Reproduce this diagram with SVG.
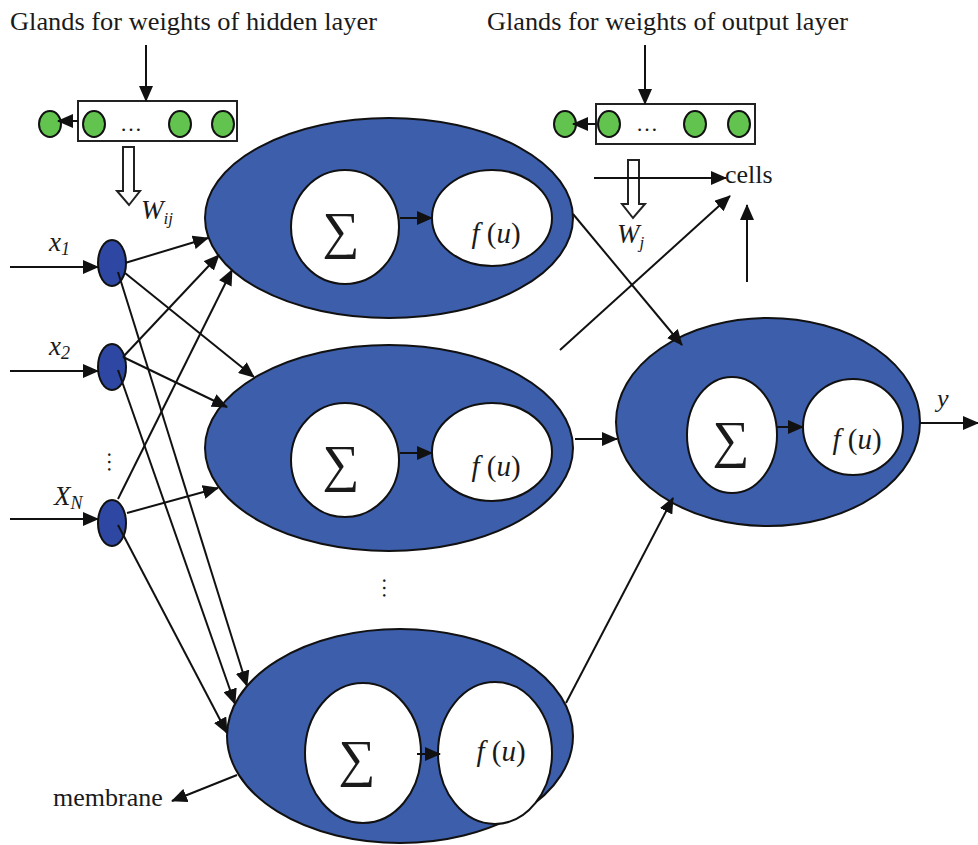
<svg xmlns="http://www.w3.org/2000/svg" width="978" height="845" viewBox="0 0 978 845">
  <style>
    .txt { font-family: "Liberation Serif", "Times New Roman", serif; fill: #1a1a1a; }
    .it { font-style: italic; }
    .cell { fill: #3D5EAB; stroke: #111; stroke-width: 2; }
    .inp { fill: #2E47A2; stroke: #111; stroke-width: 2; }
    .inner { fill: #fff; stroke: #111; stroke-width: 2; }
    .gland { fill: #62C44E; stroke: #111; stroke-width: 2; }
    .box { fill: #fff; stroke: #222; stroke-width: 2; }
    .hollow { fill: #fff; stroke: #222; stroke-width: 2; }
    .edge { fill: none; stroke: #111; stroke-width: 2; marker-end: url(#ah); }
    .sig { font-size: 52px; }
    .fu { font-size: 29px; font-style: italic; }
  </style>
  <defs>
    <marker id="ah" markerUnits="userSpaceOnUse" markerWidth="16" markerHeight="14" refX="15" refY="7" orient="auto">
      <path d="M0,0 L16,7 L0,14 Z" fill="#111"/>
    </marker>
  </defs>

  <rect width="978" height="845" fill="#fff"/>

  <!-- headings -->
  <text class="txt" x="10" y="30" font-size="26" textLength="367" lengthAdjust="spacingAndGlyphs">Glands for weights of hidden layer</text>
  <text class="txt" x="487" y="30" font-size="26" textLength="361" lengthAdjust="spacingAndGlyphs">Glands for weights of output layer</text>

  <!-- gland strip for hidden-layer weights -->
  <g id="glands-hidden">
    <rect class="box" x="78" y="101" width="159" height="40"/>
    <ellipse class="gland" cx="50" cy="124" rx="11" ry="13"/>
    <ellipse class="gland" cx="94" cy="124" rx="11" ry="13"/>
    <ellipse class="gland" cx="180" cy="124" rx="11" ry="13"/>
    <ellipse class="gland" cx="223" cy="124" rx="11" ry="13"/>
    <text class="txt" x="131" y="131" font-size="22" text-anchor="middle">…</text>
    <path class="hollow" d="M123,147 H134 V191 H140 L129,205 L117,191 H123 Z"/>
    <text class="txt it" x="141" y="219" font-size="27">W<tspan font-size="17" dy="5">ij</tspan></text>
  </g>

  <!-- gland strip for output-layer weights -->
  <g id="glands-output">
    <rect class="box" x="596" y="104" width="159" height="40"/>
    <ellipse class="gland" cx="565" cy="124" rx="11" ry="13"/>
    <ellipse class="gland" cx="609" cy="124" rx="11" ry="13"/>
    <ellipse class="gland" cx="695" cy="124" rx="11" ry="13"/>
    <ellipse class="gland" cx="739" cy="124" rx="11" ry="13"/>
    <text class="txt" x="647" y="131" font-size="22" text-anchor="middle">…</text>
    <path class="hollow" d="M628,160 H639 V204 H645 L633,218 L622,204 H628 Z"/>
    <text class="txt it" x="617" y="243" font-size="27">W<tspan font-size="17" dy="5">j</tspan></text>
  </g>

  <!-- inputs -->
  <g id="input-1">
    <ellipse class="inp" cx="112" cy="263" rx="14" ry="23"/>
    <text class="txt it" x="49" y="251" font-size="27">x<tspan font-size="18" dy="4">1</tspan></text>
  </g>
  <g id="input-2">
    <ellipse class="inp" cx="112" cy="367" rx="14" ry="23"/>
    <text class="txt it" x="49" y="355" font-size="27">x<tspan font-size="18" dy="4">2</tspan></text>
  </g>
  <g id="input-n">
    <ellipse class="inp" cx="112" cy="523" rx="14" ry="23"/>
    <text class="txt it" x="54" y="505" font-size="27">X<tspan font-size="18" dy="4">N</tspan></text>
  </g>
  <text class="txt" x="116" y="470" font-size="22" text-anchor="middle" transform="rotate(90 116 462)">…</text>

  <!-- hidden neurons -->
  <g id="hidden-1">
    <ellipse class="cell" cx="389" cy="218" rx="184" ry="100"/>
    <ellipse class="inner" cx="345" cy="227" rx="54" ry="57"/>
    <ellipse class="inner" cx="492" cy="218" rx="60" ry="48"/>
    <text class="txt sig" x="341" y="248" text-anchor="middle">∑</text>
    <text class="txt fu" x="496" y="243" text-anchor="middle">f<tspan font-style="normal"> (</tspan>u<tspan font-style="normal">)</tspan></text>
  </g>
  <g id="hidden-2">
    <ellipse class="cell" cx="389" cy="448" rx="184" ry="103"/>
    <ellipse class="inner" cx="345" cy="460" rx="54" ry="57"/>
    <ellipse class="inner" cx="492" cy="452" rx="60" ry="49"/>
    <text class="txt sig" x="341" y="481" text-anchor="middle">∑</text>
    <text class="txt fu" x="496" y="476" text-anchor="middle">f<tspan font-style="normal"> (</tspan>u<tspan font-style="normal">)</tspan></text>
  </g>
  <text class="txt" x="391" y="596" font-size="22" text-anchor="middle" transform="rotate(90 391 588)">…</text>
  <g id="hidden-3">
    <ellipse class="cell" cx="400" cy="736" rx="173" ry="107"/>
    <ellipse class="inner" cx="363" cy="753" rx="58" ry="70"/>
    <ellipse class="inner" cx="495" cy="753" rx="57" ry="71"/>
    <text class="txt sig" x="357" y="776" text-anchor="middle">∑</text>
    <text class="txt fu" x="501" y="761" text-anchor="middle">f<tspan font-style="normal"> (</tspan>u<tspan font-style="normal">)</tspan></text>
  </g>

  <!-- output neuron -->
  <g id="output">
    <ellipse class="cell" cx="768" cy="422" rx="152" ry="104"/>
    <ellipse class="inner" cx="732" cy="435" rx="45" ry="58"/>
    <ellipse class="inner" cx="853" cy="427" rx="50" ry="48"/>
    <text class="txt sig" x="731" y="457" text-anchor="middle">∑</text>
    <text class="txt fu" x="857" y="449" text-anchor="middle">f<tspan font-style="normal"> (</tspan>u<tspan font-style="normal">)</tspan></text>
    <text class="txt it" x="937" y="407" font-size="26">y</text>
  </g>

  <g id="labels">
    <text class="txt" x="725" y="183" font-size="26">cells</text>
    <text class="txt" x="53" y="806" font-size="26">membrane</text>
  </g>

  <g id="connectors">
    <!-- gland feeds -->
    <line class="edge" x1="146" y1="45" x2="146" y2="101"/>
    <line class="edge" x1="78" y1="121" x2="58" y2="121"/>
    <line class="edge" x1="645" y1="45" x2="645" y2="104"/>
    <line class="edge" x1="596" y1="124" x2="573" y2="124"/>
    <!-- cells -->
    <line class="edge" x1="594" y1="178" x2="726" y2="178"/>
    <line class="edge" x1="560" y1="350" x2="730" y2="196"/>
    <line class="edge" x1="747" y1="282" x2="747" y2="205"/>
    <!-- input signals -->
    <line class="edge" x1="10" y1="267" x2="98" y2="267"/>
    <line class="edge" x1="10" y1="371" x2="98" y2="371"/>
    <line class="edge" x1="10" y1="519" x2="98" y2="519"/>
    <!-- inputs to hidden layer -->
    <line class="edge" x1="125" y1="263" x2="208" y2="238"/>
    <line class="edge" x1="125" y1="273" x2="254" y2="377"/>
    <line class="edge" x1="118" y1="272" x2="247" y2="686"/>
    <line class="edge" x1="123" y1="357" x2="219" y2="255"/>
    <line class="edge" x1="123" y1="357" x2="227" y2="407"/>
    <line class="edge" x1="118" y1="370" x2="235" y2="704"/>
    <line class="edge" x1="118" y1="499" x2="232" y2="270"/>
    <line class="edge" x1="127" y1="513" x2="218" y2="488"/>
    <line class="edge" x1="118" y1="525" x2="227" y2="733"/>
    <!-- inside neurons -->
    <line class="edge" x1="400" y1="218" x2="432" y2="218"/>
    <line class="edge" x1="400" y1="453" x2="432" y2="453"/>
    <line class="edge" x1="417" y1="754" x2="440" y2="754"/>
    <line class="edge" x1="777" y1="427" x2="803" y2="427"/>
    <!-- hidden to output -->
    <line class="edge" x1="573" y1="214" x2="682" y2="345"/>
    <line class="edge" x1="575" y1="439" x2="617" y2="439"/>
    <line class="edge" x1="566" y1="703" x2="673" y2="498"/>
    <!-- output and membrane -->
    <line class="edge" x1="920" y1="423" x2="978" y2="423"/>
    <line class="edge" x1="237" y1="775" x2="172" y2="801"/>
  </g>
</svg>
